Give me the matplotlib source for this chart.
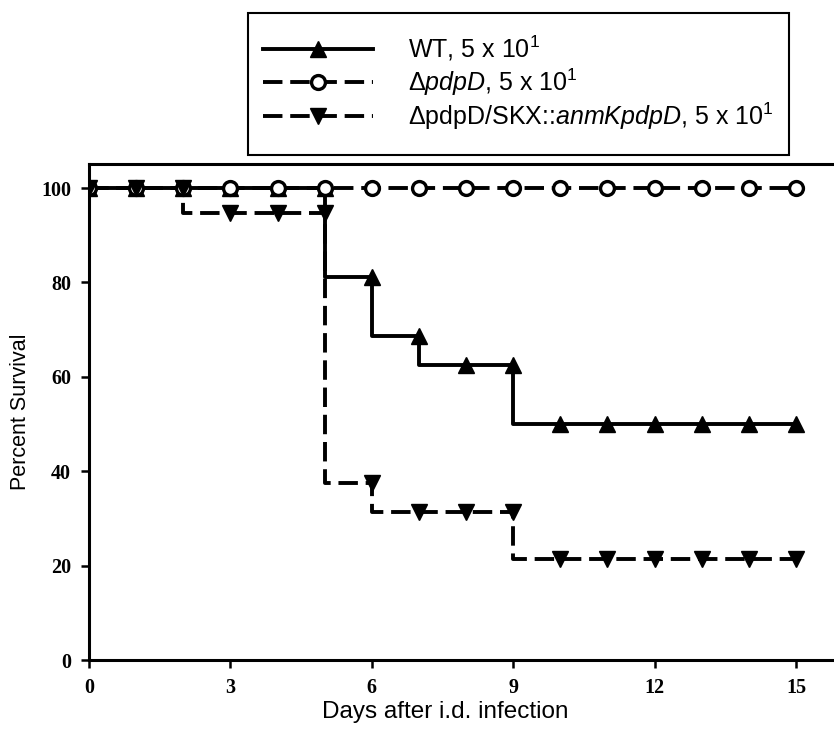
import numpy as np
import matplotlib
matplotlib.use('Agg')
import matplotlib.pyplot as plt
from matplotlib.patches import Rectangle

plt.rcParams['font.family'] = 'Liberation Sans'
plt.rcParams['mathtext.fontset'] = 'custom'
plt.rcParams['mathtext.rm'] = 'Liberation Sans'
plt.rcParams['mathtext.it'] = 'Liberation Sans:italic'

# Survival (%) after each day, Kaplan-Meier style
days = np.arange(0, 16)
wt = [100, 100, 100, 100, 100, 81.25, 68.75, 62.5, 62.5, 50, 50, 50, 50, 50, 50, 50]
pdpd = [100] * 16
compl = [100, 100, 94.7, 94.7, 94.7, 37.5, 31.4, 31.4, 31.4, 21.5, 21.5, 21.5, 21.5, 21.5, 21.5, 21.5]

labels = ["WT, 5 x 10$^1$",
          "$\\mathit{Δ pdpD}$, 5 x 10$^1$",
          "$\\mathit{Δ}$pdpD/SKX::$\\mathit{anmKpdpD}$, 5 x 10$^1$"]

xticks = [0, 3, 6, 9, 12, 15]
yticks = [0, 20, 40, 60, 80, 100]


def marks(s):
    # markers sit at the value before the step of that day
    return [s[0]] + list(s[:-1])


W, H = 834, 730
fig = plt.figure(figsize=(W / 100, H / 100), dpi=100)
ax = fig.add_axes([89 / W, 1 - 660 / H, 1 - 89 / W, (660 - 164) / H])

lw = 2.8
dash = (5.0, 2.0)
ms = 11

# WT
ax.step(days, wt, where='post', color='black', lw=lw, zorder=2)
ax.plot(days, marks(wt), ls='none', marker='^', ms=ms, color='black', zorder=3)
# delta pdpD
ax.step(days, pdpd, where='post', color='black', lw=lw, dashes=dash, zorder=2)
ax.plot(days, marks(pdpd), ls='none', marker='o', ms=10, mfc='white', mec='black', mew=2.4, zorder=4)
# complemented
ax.step(days, compl, where='post', color='black', lw=lw, dashes=dash, zorder=2)
ax.plot(days, marks(compl), ls='none', marker='v', ms=ms, color='black', zorder=5)

# legend box drawn by hand, legend itself frameless
fig.patches.append(Rectangle((248 / W, 1 - 155 / H), (789 - 248) / W, (155 - 13) / H,
                             transform=fig.transFigure, fill=False, ec='black', lw=1.5))
h1, = ax.plot([], [], color='black', lw=lw, marker='^', ms=ms)
h2, = ax.plot([], [], color='black', lw=lw, dashes=dash, marker='o', ms=10, mfc='white', mew=2.4)
h3, = ax.plot([], [], color='black', lw=lw, dashes=dash, marker='v', ms=ms)
fig.legend([h1, h2, h3], labels, loc='upper left',
           bbox_to_anchor=(263 / W, 1 - 34 / H), frameon=False,
           fontsize=18, handlelength=4.4, handletextpad=1.4,
           borderpad=0, borderaxespad=0, labelspacing=0.12)

ax.set_xlim(0, (W - 89) / ((796 - 89) / 15))
ax.set_ylim(0, (660 - 164) / ((660 - 188) / 100))
ax.set_xticks(xticks)
ax.set_yticks(yticks)
for lab in ax.get_xticklabels() + ax.get_yticklabels():
    lab.set_fontfamily('Liberation Serif')
    lab.set_fontweight('bold')
    lab.set_fontsize(14.5)
ax.tick_params(direction='out', length=6, width=1.8)
ax.tick_params(axis='x', pad=7)
ax.tick_params(axis='y', pad=7)
for s in ['left', 'bottom', 'top']:
    ax.spines[s].set_linewidth(2.2)
ax.spines['right'].set_visible(False)

ax.set_xlabel("Days after i.d. infection", fontsize=17.5)
ax.set_ylabel("Percent Survival", fontsize=15.5)
ax.xaxis.set_label_coords((445 - 89) / (W - 89), -41 / 496)
ax.yaxis.set_label_coords(-58 / (W - 89), 0.5)

fig.savefig('out.png', dpi=100)
